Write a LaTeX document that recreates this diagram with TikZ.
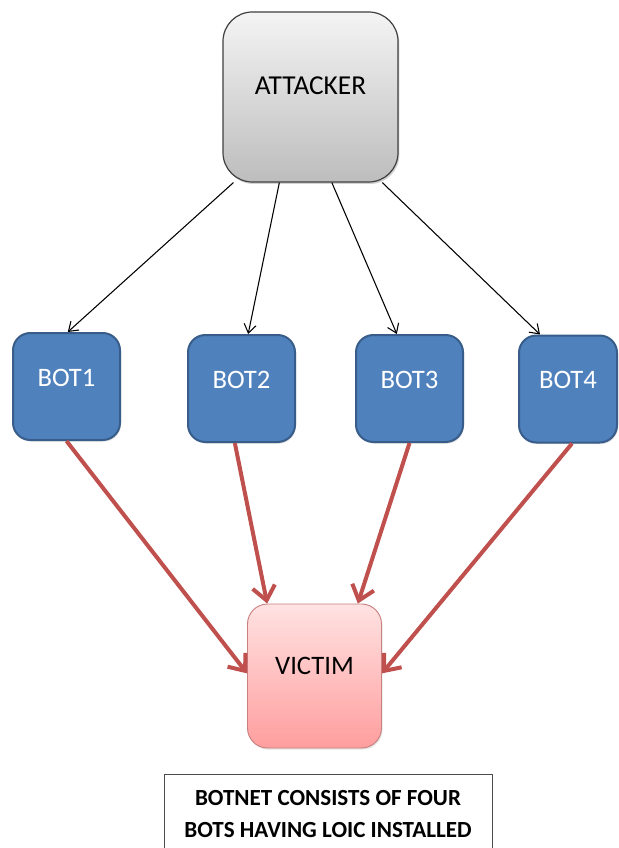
\documentclass[tikz,border=0pt]{standalone}
\usepackage{fontspec}
\setmainfont{Carlito}
\usetikzlibrary{arrows.meta,shadows}

\definecolor{botfill}{HTML}{4F81BD}
\definecolor{botedge}{HTML}{385D8A}
\definecolor{hitred}{HTML}{C0504D}
\definecolor{graytop}{HTML}{F4F4F4}
\definecolor{graybot}{HTML}{BDBDBD}
\definecolor{pinktop}{HTML}{FFE2E2}
\definecolor{pinkbot}{HTML}{FF9E9E}
\definecolor{pinkedge}{HTML}{C98080}

\tikzset{
  box/.style={rectangle, align=center, inner sep=0pt},
  attackerbox/.style={box, rounded corners=22pt, draw=black!75, line width=0.9pt,
    top color=graytop, bottom color=graybot,
    drop shadow={shadow xshift=1pt, shadow yshift=-1.5pt, opacity=0.35},
    minimum width=131.25pt, minimum height=127.5pt,
    font=\fontsize{20.5}{22}\selectfont, text depth=16.5pt},
  botbox/.style={box, rounded corners=13pt, draw=botedge, line width=1.5pt,
    fill=botfill, text=white,
    drop shadow={shadow xshift=0.8pt, shadow yshift=-1.2pt, opacity=0.25},
    minimum height=80.25pt,
    font=\fontsize{20}{22}\selectfont, text depth=13.5pt},
  victimbox/.style={box, rounded corners=15pt, draw=pinkedge, line width=0.7pt,
    top color=pinktop, bottom color=pinkbot,
    drop shadow={shadow xshift=0.8pt, shadow yshift=-1.2pt, opacity=0.2},
    minimum width=100.5pt, minimum height=108pt,
    font=\fontsize{20}{22}\selectfont, text depth=15pt},
  notebox/.style={box, draw=black!70, line width=0.6pt, fill=white,
    minimum width=246pt, minimum height=60pt,
    font=\bfseries\fontsize{17.3}{24}\selectfont},
  command/.style={draw=black, line width=0.8pt,
    -{Straight Barb[length=6.5pt,width=9pt]}},
  flood/.style={draw=hitred, line width=3pt,
    -{Straight Barb[length=10.5pt,width=17pt]}},
}

\begin{document}
\begin{tikzpicture}[x=0.75pt,y=-0.75pt]
  \clip (0,0) rectangle (618,848);
  \fill[white] (0,0) rectangle (618,848);

  % controller
  \node[attackerbox] (attacker) at (310.5,97) {ATTACKER};

  % compromised machines
  \node[botbox, minimum width=80.25pt] (bot1) at (66.5,386.5) {BOT1};
  \node[botbox, minimum width=80.25pt] (bot2) at (241.5,388.5) {BOT2};
  \node[botbox, minimum width=80.25pt] (bot3) at (409.5,388.5) {BOT3};
  \node[botbox, minimum width=73.5pt]  (bot4) at (568,389) {BOT4};

  % target
  \node[victimbox] (victim) at (314.5,676) {VICTIM};

  % caption
  \node[notebox, anchor=north] (note) at (328,774)
    {BOTNET CONSISTS OF FOUR\\BOTS HAVING LOIC INSTALLED};

  % commands from the attacker
  \draw[command] (attacker.228) -- ([xshift=1pt]bot1.north);
  \draw[command] (attacker.250) -- ([xshift=5pt]bot2.north);
  \draw[command] (attacker.284) -- ([xshift=-9.5pt]bot3.north);
  \draw[command] (attacker.310) -- ([xshift=-21pt]bot4.north);

  % flood traffic towards the target
  \draw[flood] (bot1.south) -- ([yshift=2pt]victim.west);
  \draw[flood] ([xshift=-5pt]bot2.south) -- ([xshift=-35.5pt]victim.north);
  \draw[flood] (bot3.south) -- ([xshift=32.5pt]victim.north);
  \draw[flood] ([xshift=3pt]bot4.south) -- ([yshift=2pt]victim.east);
\end{tikzpicture}
\end{document}
